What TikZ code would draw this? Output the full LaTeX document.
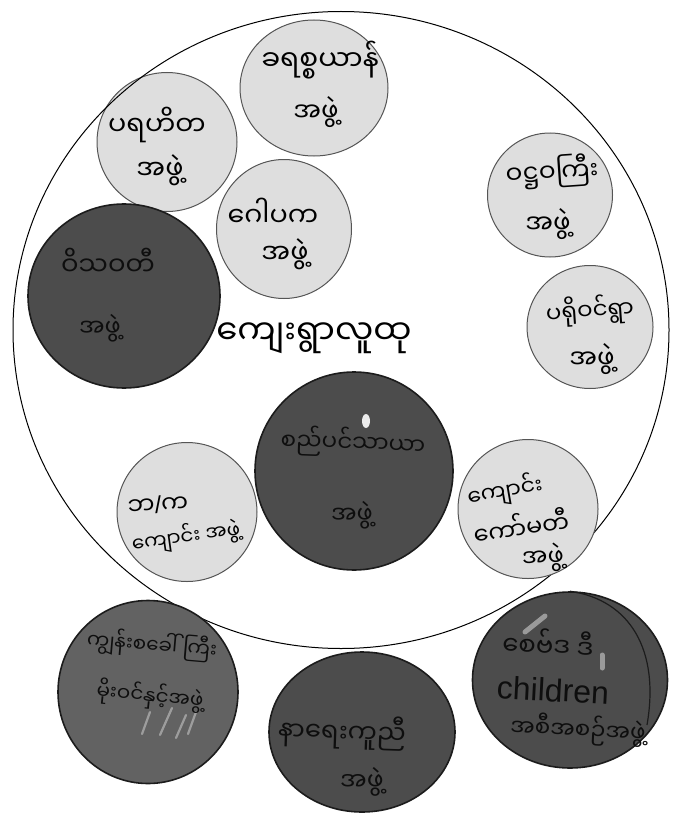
\documentclass[tikz,border=0pt]{standalone}
\usepackage{fontspec}
\usetikzlibrary{shapes.geometric}
\newfontfamily\myfont[Script=Myanmar]{Noto Sans Myanmar UI}
\newfontfamily\latinface{Liberation Sans}
\definecolor{lightfill}{HTML}{DEDEDE}
\definecolor{lightedge}{HTML}{555555}
\definecolor{darkfill}{HTML}{4C4C4C}
\definecolor{midfill}{HTML}{626262}
\definecolor{darkedge}{HTML}{1C1C1C}
\definecolor{darkink}{HTML}{0E0E0E}
\definecolor{glint}{HTML}{A8A8A8}
\tikzset{
  x=1pt,y=-1pt,
  size/.style 2 args={minimum width=#1pt,minimum height=#2pt},
  disc/.style={ellipse,inner sep=0pt},
  lightdisc/.style={disc,draw=lightedge,line width=1pt,fill=lightfill},
  darkdisc/.style={disc,draw=darkedge,line width=1.6pt,fill=darkfill},
  middisc/.style={disc,draw=darkedge,line width=1.6pt,fill=midfill},
  outer/.style={ellipse,inner sep=0pt,draw=black,line width=1pt},
  ink/.style={inner sep=0pt,text=black,font=\myfont\fontsize{#1}{#1}\selectfont},
  darkinkt/.style={inner sep=0pt,text=darkink,font=\myfont\fontsize{#1}{#1}\selectfont},
  streak/.style={draw=glint,line width=2.2pt,line cap=round,opacity=.85}
}
\begin{document}
\begin{tikzpicture}
\useasboundingbox (0,0) rectangle (684,840);
\node[lightdisc,size={148}{136}] (top) at (314,88) {};
\node[lightdisc,size={140}{139}] (para) at (167,142) {};
\node[outer,size={656}{637}] (village) at (341,330) {};
\node[lightdisc,size={135}{139}] (gawpaka) at (284,229) {};
\node[lightdisc,size={125}{124}] (elders) at (550,195) {};
\node[lightdisc,size={126}{123}] (youth) at (590,327) {};
\node[darkdisc,size={192}{184}] (dleft) at (124,296) {};
\node[darkdisc,size={198}{198}] (dcentre) at (354,471) {};
\node[lightdisc,size={140}{139}] (bk) at (187,512) {};
\node[lightdisc,size={140}{139}] (school) at (528,509) {};
\node[middisc,size={180}{183}] (bleft) at (148,692) {};
\node[darkdisc,size={186}{160}] (bmid) at (362,732) {};
\node[darkdisc,size={195}{176}] (bright) at (570,680) {};
% pale marks and the second edge of the dark discs
\draw[streak] (172,708) -- (160,735);
\draw[streak] (186,715) -- (176,738);
\draw[streak] (196,712) -- (188,734);
\draw[streak] (150,712) -- (142,734);
\draw[darkedge,line width=1.2pt] (bright.north) .. controls (630,600) and (660,650) .. (647,725);
\draw[streak,line width=5pt] (525,632) -- (545,616);
\draw[streak,line width=5pt] (602,655) -- (602,668);
\fill[white!85!gray] (366,421) ellipse (4 and 7);
% texts in the discs
\node[ink=28] (t1a) at (320,60) {ခရစ္စယာန်};
\node[ink=26] (t1b) at (316,112) {အဖွဲ့};
\node[ink=27] (t2a) at (157,125) {ပရဟိတ};
\node[ink=27] (t2b) at (160,170) {အဖွဲ့};
\node[ink=27] (t3a) at (273,212) {ဂေါပက};
\node[ink=27] (t3b) at (285,254) {အဖွဲ့};
\node[ink=25,rotate=4] (t4a) at (552,172) {ဝဋ္ဌဝကြီး};
\node[ink=26] (t4b) at (548,224) {အဖွဲ့};
\node[ink=23,rotate=4] (t5a) at (590,311) {ပရိုဝင်ရွာ};
\node[ink=26] (t5b) at (592,359) {အဖွဲ့};
\node[darkinkt=26] (t6a) at (108,262) {ဝိသဝတီ};
\node[darkinkt=24] (t6b) at (100,328) {အဖွဲ့};
\node[ink=34] (villagers) at (314,338) {ကျေးရွာလူထု};
\node[darkinkt=23,rotate=-2] (t7a) at (353,443) {စည်ပင်သာယာ};
\node[darkinkt=24] (t7b) at (352,515) {အဖွဲ့};
\node[ink=24,rotate=4] (t8a) at (158,505) {ဘ{\latinface /}က};
\node[ink=20,rotate=8] (t8b) at (186,537) {ကျောင်း အဖွဲ့};
\node[ink=22,rotate=10] (t9a) at (505,491) {ကျောင်း};
\node[ink=24,rotate=8] (t9b) at (521,526) {ကော်မတီ};
\node[ink=24,rotate=4] (t9c) at (543,558) {အဖွဲ့};
\node[darkinkt=20,rotate=-5] (t10a) at (152,645) {ကျွန်းစခေါ်ကြီး};
\node[darkinkt=20,rotate=-6] (t10b) at (150,696) {မိုးဝင်နှင့်အဖွဲ့};
\node[darkinkt=26,rotate=-2] (t11a) at (342,732) {နာရေးကူညီ};
\node[darkinkt=25] (t11b) at (362,782) {အဖွဲ့};
\node[darkinkt=26,rotate=-3] (t12a) at (548,643) {စေဗ်ဒ ဒီ};
\node[inner sep=0pt,text=darkink,font=\latinface\fontsize{32}{32}\selectfont,rotate=-3] (t12b) at (553,690) {children};
\node[darkinkt=23,rotate=-3] (t12c) at (578,730) {အစီအစဉ်အဖွဲ့};
\end{tikzpicture}
\end{document}
